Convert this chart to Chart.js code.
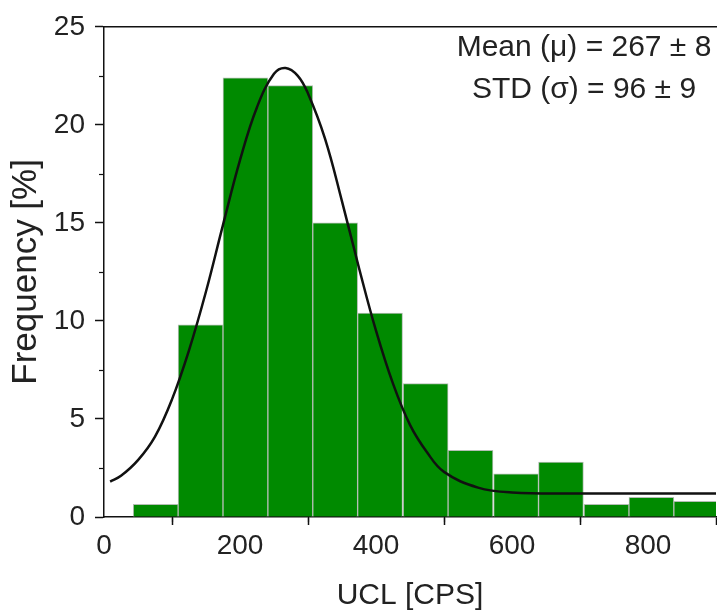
<!DOCTYPE html>
<html>
<head>
<meta charset="utf-8">
<script src="https://cdn.jsdelivr.net/npm/chart.js@4"></script>
<style>
  html, body { margin: 0; padding: 0; background: #fff; }
  #wrap { width: 717px; height: 614px; }
</style>
</head>
<body>
<div id="wrap"><canvas id="histChart" width="717" height="614"></canvas></div>
<script>
// histogram bins (centres, CPS) and frequencies (%)
const binCenters = [76, 142, 208, 274, 340, 406, 473, 539, 606, 672, 739, 805, 871];
const binFreq = [0.65, 9.8, 22.4, 22.0, 15.0, 10.4, 6.8, 3.4, 2.2, 2.8, 0.65, 1.0, 0.8];

// fitted curve
const curveX = [9, 25, 50, 75, 100, 125, 150, 175, 200, 225, 250, 267, 285, 300, 325, 350, 375, 400, 425, 450, 475, 500, 550, 600, 700, 800, 900];
const curveY = [1.8, 2.1, 2.9, 4.1, 6.0, 8.5, 11.5, 14.9, 18.2, 20.9, 22.6, 22.9, 22.5, 21.6, 19.3, 16.1, 12.7, 9.5, 6.8, 4.7, 3.3, 2.3, 1.5, 1.25, 1.2, 1.2, 1.2];

const xTicks = [0, 200, 400, 600, 800];
const xMinor = [100, 300, 500, 700];
const yTicks = [0, 5, 10, 15, 20, 25];
const yMinor = [2.5, 7.5, 12.5, 17.5, 22.5];

const statLines = ["Mean (\u03bc) = 267 \u00b1 8", "STD (\u03c3) = 96 \u00b1 9"];

const FONT = "'Liberation Sans', Arial, sans-serif";
const TEXT = "#222";

// top frame line, minor ticks and the stats box
const extras = {
  id: "extras",
  afterDraw(chart) {
    const ctx = chart.ctx;
    const area = chart.chartArea;
    const xs = chart.scales.x, ys = chart.scales.y;
    ctx.save();
    ctx.strokeStyle = "#111";
    ctx.lineWidth = 1.5;
    ctx.beginPath();
    ctx.moveTo(area.left, area.top);
    ctx.lineTo(chart.width, area.top);
    ctx.stroke();
    ctx.lineWidth = 1.2;
    xMinor.forEach(v => {
      const px = Math.round(xs.getPixelForValue(v)) + 0.5;
      ctx.beginPath();
      ctx.moveTo(px, area.bottom);
      ctx.lineTo(px, area.bottom + 5);
      ctx.stroke();
    });
    yMinor.forEach(v => {
      const py = Math.round(ys.getPixelForValue(v)) + 0.5;
      ctx.beginPath();
      ctx.moveTo(area.left, py);
      ctx.lineTo(area.left - 5, py);
      ctx.stroke();
    });
    ctx.fillStyle = TEXT;
    ctx.font = "30px " + FONT;
    ctx.textAlign = "center";
    ctx.textBaseline = "middle";
    statLines.forEach((t, i) => ctx.fillText(t, 584, 48 + i * 42));
    ctx.restore();
  }
};

new Chart(document.getElementById("histChart"), {
  type: "bar",
  data: {
    datasets: [{
      type: "line",
      data: curveX.map((x, i) => ({ x: x, y: curveY[i] })),
      borderColor: "#111",
      borderWidth: 2.5,
      pointRadius: 0,
      tension: 0.4,
      fill: false,
      order: 0
    }, {
      type: "bar",
      data: binCenters.map((x, i) => ({ x: x, y: binFreq[i] })),
      backgroundColor: "#008a00",
      borderColor: "#b4beb4",
      borderWidth: 1,
      barPercentage: 1,
      categoryPercentage: 1,
      order: 1
    }]
  },
  options: {
    responsive: false,
    animation: false,
    layout: { padding: { top: 23, right: 1, left: 0, bottom: 0 } },
    plugins: { legend: { display: false }, tooltip: { enabled: false } },
    scales: {
      x: {
        type: "linear",
        min: 0,
        max: 900,
        offset: false,
        afterFit: s => { s.height = 97; },
        afterBuildTicks: s => { s.ticks = xTicks.map(v => ({ value: v })); },
        grid: { drawOnChartArea: false, drawTicks: true, tickLength: 8, tickColor: "#111", tickWidth: 1.5 },
        border: { display: true, color: "#111", width: 1.5 },
        ticks: { color: TEXT, font: { family: FONT, size: 28 }, padding: 4, maxRotation: 0 },
        title: { display: true, text: "UCL [CPS]", color: TEXT, font: { family: FONT, size: 30 }, padding: { top: 0, bottom: 0 } }
      },
      y: {
        min: 0,
        max: 25,
        afterFit: s => { s.width = 104; },
        afterBuildTicks: s => { s.ticks = yTicks.map(v => ({ value: v })); },
        grid: { drawOnChartArea: false, drawTicks: true, tickLength: 9, tickColor: "#111", tickWidth: 1.5 },
        border: { display: true, color: "#111", width: 1.5 },
        ticks: { color: TEXT, font: { family: FONT, size: 28 }, padding: 10 },
        title: { display: true, text: "Frequency [%]", color: TEXT, font: { family: FONT, size: 35 }, padding: { top: 5, bottom: 0 } }
      }
    }
  },
  plugins: [extras]
});
</script>
</body>
</html>
